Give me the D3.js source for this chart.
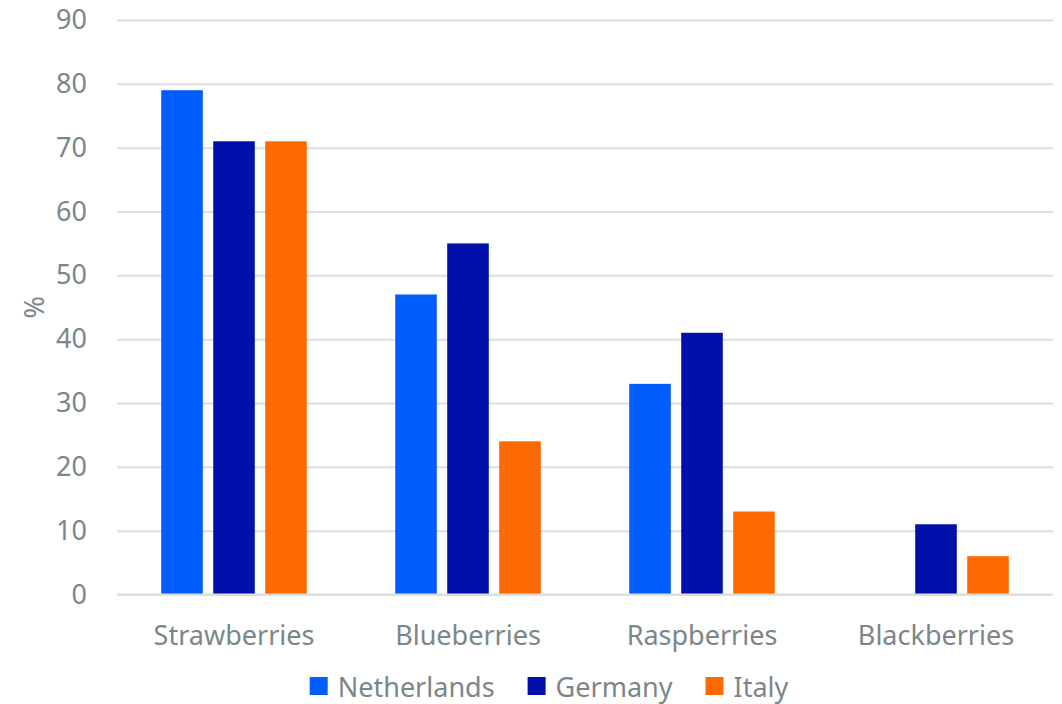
<!DOCTYPE html>
<html>
<head>
<meta charset="utf-8">
<script src="https://cdn.jsdelivr.net/npm/d3@7"></script>
<style>
  html, body { margin: 0; padding: 0; background: #fff; }
  svg { display: block; }
  text { font-family: "Noto Sans", "Open Sans", sans-serif; fill: #7b8689; }
</style>
</head>
<body>
<svg id="chart" width="1062" height="704"></svg>
<script>
// Share of respondents buying each berry type, by country (%)
const categories = ["Strawberries", "Blueberries", "Raspberries", "Blackberries"];
const seriesNames = ["Netherlands", "Germany", "Italy"];
const netherlands = [79, 47, 33, null];
const germany = [71, 55, 41, 11];
const italy = [71, 24, 13, 6];
const yTicks = [0, 10, 20, 30, 40, 50, 60, 70, 80, 90];
const colors = ["#005eff", "#0010a8", "#ff6a00"];

const seriesValues = [netherlands, germany, italy];

const W = 1062, H = 704;
const margin = { left: 117, right: 9, top: 20, bottom: 109 };
const svg = d3.select("#chart");

const x0 = d3.scaleBand()
  .domain(categories)
  .range([margin.left, W - margin.right])
  .paddingInner(0.378)
  .paddingOuter(0.189);

const x1 = d3.scaleBand()
  .domain(seriesNames)
  .range([0, x0.bandwidth()])
  .paddingInner(0.2)
  .paddingOuter(0);

const y = d3.scaleLinear()
  .domain([0, 90])
  .range([H - margin.bottom - 0.5, margin.top]);

// Gridlines and y-axis labels
const yAxis = d3.axisLeft(y)
  .tickValues(yTicks)
  .tickSize(-(W - margin.left - margin.right))
  .tickPadding(30)
  .tickFormat(d3.format("d"));

const gy = svg.append("g")
  .attr("transform", `translate(${margin.left},0)`)
  .call(yAxis);
gy.select(".domain").remove();
gy.selectAll(".tick line").attr("stroke", "#dedede").attr("stroke-width", 2);
gy.selectAll(".tick text")
  .attr("font-size", 27)
  .attr("fill", "#7b8689")
  .style("font-family", "'Noto Sans', sans-serif");

// Bars
const groups = svg.append("g")
  .selectAll("g")
  .data(categories)
  .join("g")
  .attr("transform", d => `translate(${x0(d)},0)`);

groups.selectAll("rect")
  .data((c, ci) => seriesNames.map((s, si) => ({ s, si, v: seriesValues[si][ci] })).filter(d => d.v != null))
  .join("rect")
  .attr("x", d => x1(d.s))
  .attr("width", x1.bandwidth())
  .attr("y", d => y(d.v))
  .attr("height", d => y(0) - y(d.v))
  .attr("fill", d => colors[d.si]);

// Baseline / category axis
const xAxis = d3.axisBottom(x0).tickSize(0).tickPadding(31);
const gx = svg.append("g")
  .attr("transform", `translate(0,${y(0)})`)
  .call(xAxis);
gx.select(".domain").attr("stroke", "#dedede").attr("stroke-width", 2)
  .attr("d", `M${margin.left},0H${W - margin.right}`);
gx.selectAll(".tick text")
  .attr("font-size", 27)
  .attr("fill", "#7b8689")
  .style("font-family", "'Noto Sans', sans-serif");

// Y-axis title
svg.append("text")
  .attr("transform", `translate(33,${(y(0) + y(90)) / 2}) rotate(-90)`)
  .attr("text-anchor", "middle")
  .attr("dominant-baseline", "central")
  .attr("font-size", 27)
  .text("%");

// Legend
const legend = svg.append("g");
let cursor = 0;
const sq = 18, gapText = 10, gapItem = 33, legendY = 686;
seriesNames.forEach((name, i) => {
  const item = legend.append("g").attr("transform", `translate(${cursor},0)`);
  item.append("rect")
    .attr("x", 0).attr("y", legendY - sq / 2)
    .attr("width", sq).attr("height", sq)
    .attr("fill", colors[i]);
  const t = item.append("text")
    .attr("x", sq + gapText).attr("y", legendY)
    .attr("dominant-baseline", "central")
    .attr("font-size", 27)
    .text(name);
  cursor += sq + gapText + t.node().getComputedTextLength() + gapItem;
});
const legendWidth = cursor - gapItem;
legend.attr("transform", `translate(${549 - legendWidth / 2},0)`);
</script>
</body>
</html>
